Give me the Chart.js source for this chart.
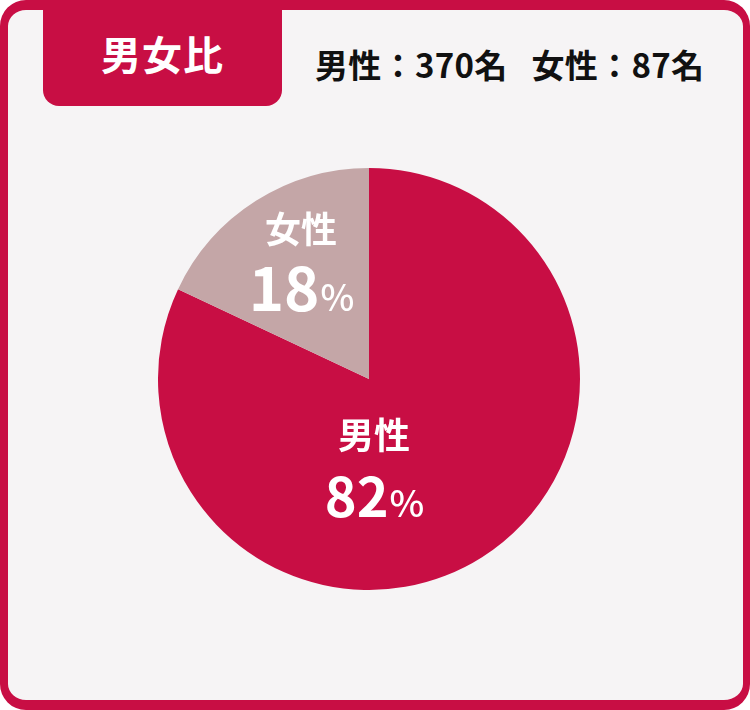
<!DOCTYPE html>
<html lang="ja">
<head>
<meta charset="utf-8">
<script src="https://cdn.jsdelivr.net/npm/chart.js@4/dist/chart.umd.min.js"></script>
<style>
  html, body { margin: 0; padding: 0; background: #ffffff; }
  body { width: 750px; height: 710px; position: relative; overflow: hidden;
         font-family: "Noto Sans CJK JP", "Noto Sans", sans-serif; }
  .frame { position: absolute; left: 0; top: 0; width: 750px; height: 710px; box-sizing: border-box;
           border: 9px solid #c80e44; border-width: 10px 7px 10px 8px; border-radius: 26px; background: #f6f4f5; }
  .tab { position: absolute; left: 43px; top: 0; width: 239px; height: 106px; background: #c80e44;
         border-radius: 0 0 16px 16px; color: #fff; font-weight: 700; font-size: 40px;
         display: flex; align-items: center; justify-content: center; letter-spacing: 1px; }
  .counts { position: absolute; left: 315px; top: 42px; font-size: 33px; font-weight: 700; color: #111;
            white-space: nowrap; line-height: 44px; letter-spacing: 0.3px; }
  .counts span + span { margin-left: 24px; }
  #pie { position: absolute; left: 158px; top: 168px; }
</style>
</head>
<body>
<div class="frame"></div>
<div class="tab">男女比</div>
<div class="counts" id="counts"></div>
<canvas id="pie" width="422" height="422"></canvas>
<script>
// Data for the chart
const categories = ['男性', '女性'];
const percents = [82, 18];
const headcount = [370, 87];
const sliceColors = ['#c80e44', '#c4a6a7'];

// head count line
const countsBox = document.getElementById('counts');
categories.forEach((name, i) => {
    const s = document.createElement('span');
    s.textContent = name + '：' + headcount[i] + '名';
    countsBox.appendChild(s);
});

// label placement (offset from pie centre, px)
const labelOffsets = [[5, 90], [-68, -116]];
const numberSizes = [54, 60];
const pctSizes = [37, 36];

const sliceLabels = {
    id: 'sliceLabels',
    afterDatasetsDraw(chart) {
        const ctx = chart.ctx;
        const arc = chart.getDatasetMeta(0).data[0];
        const cx = arc.x, cy = arc.y;
        ctx.save();
        ctx.fillStyle = '#ffffff';
        ctx.textBaseline = 'alphabetic';
        categories.forEach((name, i) => {
            const x = cx + labelOffsets[i][0];
            const y = cy + labelOffsets[i][1];
            ctx.textAlign = 'center';
            ctx.font = 'bold 36px "Noto Sans CJK JP"';
            ctx.fillText(name, x, y - 20);
            const num = String(percents[i]);
            const numFont = 'bold ' + numberSizes[i] + 'px "Noto Sans CJK JP"';
            const pctFont = '500 ' + pctSizes[i] + 'px "Noto Sans CJK JP"';
            ctx.font = numFont;
            const w1 = ctx.measureText(num).width;
            ctx.font = pctFont;
            const w2 = ctx.measureText('%').width;
            const left = x - (w1 + w2) / 2;
            ctx.textAlign = 'left';
            ctx.font = numFont;
            ctx.fillText(num, left, y + 48);
            ctx.font = pctFont;
            ctx.fillText('%', left + w1 + 1, y + 48);
        });
        ctx.restore();
    }
};

const ctx1 = document.getElementById('pie').getContext('2d');
const chart1 = new Chart(ctx1, {
    type: 'pie',
    data: {
        labels: categories,
        datasets: [{
            data: percents,
            backgroundColor: sliceColors,
            borderWidth: 0
        }]
    },
    options: {
        responsive: false,
        animation: false,
        layout: { padding: 0 },
        plugins: {
            legend: { display: false },
            tooltip: { enabled: false }
        }
    },
    plugins: [sliceLabels]
});
</script>
</body>
</html>
